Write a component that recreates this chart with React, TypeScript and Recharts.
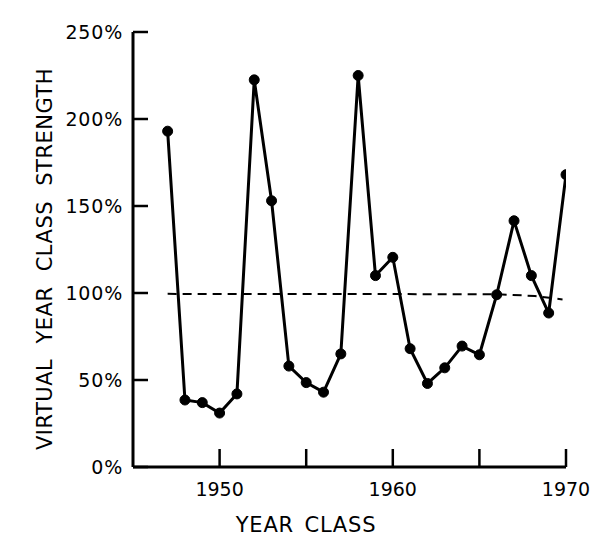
import React from 'react';
import { LineChart, Line, XAxis, YAxis, Label } from 'recharts';

const years = [1947, 1948, 1949, 1950, 1951, 1952, 1953, 1954, 1955, 1956, 1957, 1958, 1959, 1960, 1961, 1962, 1963, 1964, 1965, 1966, 1967, 1968, 1969, 1970];
const strength = [193, 38.5, 37, 31, 42, 222.5, 153, 58, 48.5, 43, 65, 225, 110, 120.5, 68, 48, 57, 69.5, 64.5, 99, 141.5, 110, 88.5, 168];

const trendYears = [1947, 1966, 1968.2, 1969.8];
const trendValues = [99.5, 99.3, 98.3, 96.3];

const xTicks = [1950, 1955, 1960, 1965, 1970];
const xTickLabels: Record<number, string> = { 1950: '1950', 1955: '', 1960: '1960', 1965: '', 1970: '1970' };
const yTicks = [0, 50, 100, 150, 200, 250];

const mainData = years.map((year, i) => ({ year, value: strength[i] }));
const trendData = trendYears.map((year, i) => ({ year, value: trendValues[i] }));

const FONT = '"DejaVu Sans", sans-serif';

export default function App() {
  return (
    <LineChart width={600} height={536} margin={{ top: 24, right: 42, left: 0, bottom: 0 }}>
      <XAxis
        dataKey="year"
        type="number"
        domain={[1945, 1970]}
        ticks={xTicks}
        allowDataOverflow
        tickFormatter={(v: number) => xTickLabels[v] ?? ''}
        height={77}
        tickSize={-18}
        tickMargin={34}
        axisLine={{ stroke: '#000', strokeWidth: 3 }}
        tickLine={{ stroke: '#000', strokeWidth: 2.5 }}
        tick={{ fill: '#000', fontSize: 19, fontFamily: FONT }}
      >
        <Label
          content={() => (
            <text x={298} y={517} textAnchor="middle" dominantBaseline="central" fontSize={21} fontFamily={FONT} fill="#000" letterSpacing={0.8} wordSpacing={3}>
              YEAR CLASS
            </text>
          )}
        />
      </XAxis>
      <YAxis
        type="number"
        domain={[0, 250]}
        ticks={yTicks}
        width={125}
        tickSize={-15}
        tickMargin={25}
        tickFormatter={(v: number) => `${v}%`}
        axisLine={{ stroke: '#000', strokeWidth: 3 }}
        tickLine={{ stroke: '#000', strokeWidth: 2.5 }}
        tick={{ fill: '#000', fontSize: 19, fontFamily: FONT, letterSpacing: 0.8 }}
      >
        <Label
          content={() => (
            <text x={37} y={251} transform="rotate(-90 37 251)" textAnchor="middle" dominantBaseline="central" fontSize={21} fontFamily={FONT} fill="#000" letterSpacing={0.5} wordSpacing={8}>
              VIRTUAL YEAR CLASS STRENGTH
            </text>
          )}
        />
      </YAxis>
      <Line
        data={trendData}
        dataKey="value"
        type="linear"
        stroke="#000"
        strokeWidth={2}
        strokeDasharray="9 6"
        dot={false}
        isAnimationActive={false}
      />
      <Line
        data={mainData}
        dataKey="value"
        type="linear"
        stroke="#000"
        strokeWidth={3}
        dot={{ r: 5, fill: '#000', stroke: '#000', strokeWidth: 1 }}
        isAnimationActive={false}
      />
    </LineChart>
  );
}
